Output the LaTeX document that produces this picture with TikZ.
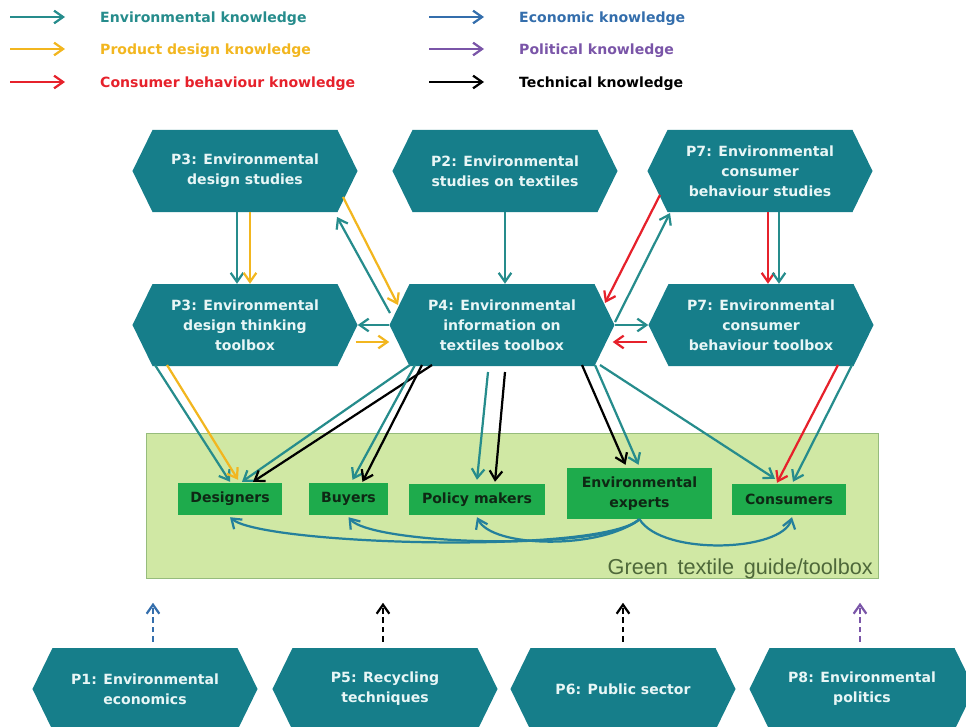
\documentclass[tikz,border=0pt]{standalone}
\usepackage{fontspec}
\setmainfont{DejaVu Sans}
\newfontfamily\guidefont{Liberation Sans}
\usetikzlibrary{arrows.meta,calc,positioning}

\definecolor{hexteal}{RGB}{22,126,138}
\definecolor{hextext}{RGB}{232,246,246}
\definecolor{envteal}{RGB}{38,140,140}
\definecolor{econblue}{RGB}{52,110,172}
\definecolor{designyel}{RGB}{242,182,31}
\definecolor{polpurple}{RGB}{122,85,168}
\definecolor{consred}{RGB}{230,33,43}
\definecolor{curveblue}{RGB}{36,128,156}
\definecolor{actorgreen}{RGB}{30,171,76}
\definecolor{actortext}{RGB}{14,40,20}
\definecolor{guidefill}{RGB}{208,232,164}
\definecolor{guideline}{RGB}{150,188,124}
\definecolor{guidetext}{RGB}{78,104,58}

\tikzset{
  hexnode/.style={minimum width=6.75cm, minimum height=2.46cm, inner sep=0pt,
    align=center, text=hextext, font=\bfseries\fontsize{12}{17}\selectfont,
    path picture={\fill[hexteal] (path picture bounding box.west)
      -- ([xshift=0.6cm]path picture bounding box.north west)
      -- ([xshift=-0.6cm]path picture bounding box.north east)
      -- (path picture bounding box.east)
      -- ([xshift=-0.6cm]path picture bounding box.south east)
      -- ([xshift=0.6cm]path picture bounding box.south west) -- cycle;}},
  actor/.style={fill=actorgreen, text=actortext, inner sep=0pt, align=center,
    font=\bfseries\fontsize{12}{17}\selectfont},
  legtxt/.style={inner sep=0pt, font=\bfseries\fontsize{12}{17}\selectfont},
  arr/.style={line width=1.9pt, -{Straight Barb[length=0.27cm,width=0.38cm]}},
  envk/.style={arr, draw=envteal},
  desk/.style={arr, draw=designyel},
  consk/.style={arr, draw=consred},
  techk/.style={arr, draw=black},
  econk/.style={arr, draw=econblue, dash pattern=on 5pt off 3pt},
  polk/.style={arr, draw=polpurple, dash pattern=on 5pt off 3pt},
  blackdash/.style={arr, draw=black, dash pattern=on 5pt off 3pt},
  curvek/.style={arr, draw=curveblue}
}

\begin{document}
\begin{tikzpicture}[x=0.03cm, y=-0.03cm]
  \useasboundingbox (0,0) rectangle (966,727);

  % Legend
  \foreach \k/\c/\xa/\ya/\t in {1/envteal/10/17/Environmental knowledge,
      2/designyel/10/49/Product design knowledge,
      3/consred/10/82/Consumer behaviour knowledge,
      4/econblue/429/17/Economic knowledge,
      5/polpurple/429/49/Political knowledge,
      6/black/429/82/Technical knowledge}{
    \coordinate (leg\k) at (\xa,\ya);
    \coordinate (leg\k e) at ($(leg\k)+(55,0)$);
    \draw[arr, draw=\c] (leg\k) -- (leg\k e);
    \node[legtxt, text=\c, anchor=base west] (legt\k) at ($(leg\k)+(90,5)$) {\t};
  }

  % Green textile guide/toolbox
  \node[fill=guidefill, draw=guideline, line width=0.8pt, minimum width=21.96cm,
    minimum height=4.35cm, inner sep=0pt] (guide) at (512,505.5) {};
  \node[anchor=base east, inner sep=0pt, text=guidetext,
    font=\guidefont\fontsize{18.5}{20}\selectfont] (guidelbl) at (873,574)
    {Green\ \,textile\ \,guide/toolbox};

  % Project hexagons
  \node[hexnode] (p3s) at (245,171) {P3: Environmental\\design studies};
  \node[hexnode] (p2)  at (505,171) {P2: Environmental\\studies on textiles};
  \node[hexnode] (p7s) at (760,171) {P7: Environmental\\consumer\\behaviour studies};
  \node[hexnode] (p3t) at (245,325) {P3: Environmental\\design thinking\\toolbox};
  \node[hexnode] (p4)  at (502,325) {P4: Environmental\\information on\\textiles toolbox};
  \node[hexnode] (p7t) at (761,325) {P7: Environmental\\consumer\\behaviour toolbox};
  \node[hexnode] (p1)  at (145,689) {P1: Environmental\\economics};
  \node[hexnode] (p5)  at (385,689) {P5: Recycling\\techniques};
  \node[hexnode] (p6)  at (623,689) {P6: Public sector};
  \node[hexnode] (p8)  at (862,689) {P8: Environmental\\politics};

  % Actors
  \node[actor, minimum width=3.12cm, minimum height=0.96cm] (des) at (230,499) {Designers};
  \node[actor, minimum width=2.37cm, minimum height=0.96cm] (buy) at (348.5,499) {Buyers};
  \node[actor, minimum width=4.08cm, minimum height=0.93cm] (pol) at (477,499.5) {Policy makers};
  \node[actor, minimum width=4.35cm, minimum height=1.53cm] (exp) at (639.5,493.5) {Environmental\\experts};
  \node[actor, minimum width=3.42cm, minimum height=0.93cm] (con) at (789,499.5) {Consumers};

  % Between the hexagons
  \draw[envk] ($(p3s.south)+(-8,0)$) -- ($(p3t.north)+(-8,0)$);
  \draw[desk] ($(p3s.south)+(5,0)$) -- ($(p3t.north)+(5,0)$);
  \draw[desk] ($(p3s)+(98,26)$) -- ($(p4)+(-104,-20)$);
  \draw[envk] ($(p4)+(-112,-12)$) -- ($(p3s)+(92,46)$);
  \draw[envk] (p4.west) -- (p3t.east);
  \draw[desk] ($(p3t.east)+(-2,17)$) -- ($(p4.west)+(0,17)$);
  \draw[envk] (p2.south) -- (p2.south |- p4.north);
  \draw[consk] ($(p7s)+(-100,24)$) -- ($(p4)+(103,-22)$);
  \draw[envk] ($(p4)+(113,-3)$) -- ($(p7s)+(-90,42)$);
  \draw[envk] (p4.east) -- (p7t.west);
  \draw[consk] ($(p7t.west)+(-1,17)$) -- ($(p4.east)+(-2,17)$);
  \draw[consk] ($(p7s.south)+(8,0)$) -- ($(p7t.north)+(7,0)$);
  \draw[envk] ($(p7s.south)+(19,0)$) -- ($(p7t.north)+(18,0)$);

  % Towards the actors
  \draw[envk] ($(p3t)+(-90,40)$) -- ($(des.north)+(0,-1)$);
  \draw[desk] ($(p3t)+(-78,40)$) -- ($(des.north)+(8,-3)$);
  \draw[envk] ($(p4)+(-92,40)$) -- ($(des.north)+(12,-1)$);
  \draw[techk] ($(p4)+(-70,40)$) -- ($(des.north)+(23,-1)$);
  \draw[envk] ($(p4)+(-87,40)$) -- ($(buy.north)+(4,-3)$);
  \draw[techk] ($(p4)+(-80,40)$) -- ($(buy.north)+(14,-1)$);
  \draw[envk] ($(p4)+(-14,47)$) -- ($(pol.north)+(0,-4)$);
  \draw[techk] ($(p4)+(3,47)$) -- ($(pol.north)+(18,-2)$);
  \draw[techk] ($(p4)+(80,40)$) -- ($(exp.north)+(-14,-3)$);
  \draw[envk] ($(p4)+(93,40)$) -- ($(exp.north)+(-1,-3)$);
  \draw[envk] ($(p4)+(98,40)$) -- ($(con.north)+(-14,-5)$);
  \draw[consk] ($(p7t)+(77,40)$) -- ($(con.north)+(-12,-1)$);
  \draw[envk] ($(p7t)+(91,40)$) -- ($(con.north)+(4,-2)$);

  % Experts share knowledge with the other actors
  \draw[curvek] (exp.south) .. controls (600,555) and (262,545) .. ($(des.south)+(0,2)$);
  \draw[curvek] (exp.south) .. controls (605,552) and (372,545) .. ($(buy.south)+(0,2)$);
  \draw[curvek] (exp.south) .. controls (600,550) and (492,548) .. ($(pol.south)+(0,2)$);
  \draw[curvek] (exp.south) .. controls (662,556) and (782,552) .. ($(con.south)+(3,2)$);

  % Other projects (dashed)
  \coordinate (p1up) at ($(p1.north)+(8,-45)$);
  \coordinate (p5up) at ($(p5.north)+(-2,-45)$);
  \coordinate (p6up) at ($(p6.north)+(0,-45)$);
  \coordinate (p8up) at ($(p8.north)+(-2,-45)$);
  \draw[econk] ($(p1.north)+(8,-6)$) -- (p1up);
  \draw[blackdash] ($(p5.north)+(-2,-6)$) -- (p5up);
  \draw[blackdash] ($(p6.north)+(0,-6)$) -- (p6up);
  \draw[polk] ($(p8.north)+(-2,-6)$) -- (p8up);
\end{tikzpicture}
\end{document}
